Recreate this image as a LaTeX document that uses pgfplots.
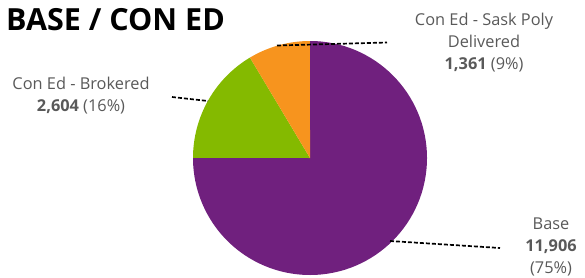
\documentclass[border=0pt]{standalone}
\usepackage{pgfplots}
\pgfplotsset{compat=1.18}
\usepackage{fontspec}
\setmainfont{Open Sans}
\definecolor{cBase}{HTML}{70207E}
\definecolor{cBrok}{HTML}{84BA00}
\definecolor{cSask}{HTML}{F7941E}
\definecolor{txt}{HTML}{595959}
% data
\def\vBase{11906}
\def\vBrok{2604}
\def\vSask{1361}
\pgfmathsetmacro\tot{\vBase+\vBrok+\vSask}
\pgfmathsetmacro\aA{90-360*(\vBase/\tot)}
\pgfmathsetmacro\aB{\aA-360*(\vBrok/\tot)}
\pgfmathsetmacro\aC{\aB-360*(\vSask/\tot)}
\begin{document}
\begin{tikzpicture}
\begin{axis}[
  at={(0,0)}, anchor=south west,
  width=585bp, height=278bp, scale only axis, hide axis,
  xmin=0, xmax=585, ymin=0, ymax=278, y dir=reverse, clip=false]
\addplot[draw=none] coordinates {(0,0) (585,278)};
\fill[cBase] (axis cs:310,158) -- ++(90:117bp) arc[start angle=90, end angle=\aA, radius=117bp] -- cycle;
\fill[cBrok] (axis cs:310,158) -- ++(\aA:117bp) arc[start angle=\aA, end angle=\aB, radius=117bp] -- cycle;
\fill[cSask] (axis cs:310,158) -- ++(\aB:117bp) arc[start angle=\aB, end angle=\aC, radius=117bp] -- cycle;
% leader lines
\draw[black, line width=1.7bp, dash pattern=on 4bp off 2bp] (axis cs:277,45.5) -- (axis cs:387,42.5);
\draw[black, line width=1.7bp, dash pattern=on 4bp off 2bp] (axis cs:172,97) -- (axis cs:208,101);
\draw[black, line width=1.7bp, dash pattern=on 4bp off 2bp] (axis cs:390,241) -- (axis cs:500,248);
% title
\node[anchor=west, inner sep=0, font=\fontsize{30.6}{35}\selectfont\bfseries] at (axis cs:6,20) {BASE / CON ED};
% labels
\node[inner sep=0, align=center, text=txt, font=\fontsize{16.4}{22}\selectfont] at (axis cs:484,43) {Con Ed - Sask Poly\\Delivered\\\textbf{1,361} (9\%)};
\node[inner sep=0, align=center, text=txt, font=\fontsize{16.4}{22}\selectfont] at (axis cs:81,96) {Con Ed - Brokered\\\textbf{2,604} (16\%)};
\node[inner sep=0, align=center, text=txt, font=\fontsize{16.4}{22}\selectfont] at (axis cs:551,247) {Base\\\textbf{11,906}\\(75\%)};
\end{axis}
\pgfresetboundingbox
\useasboundingbox (0,0) rectangle (585bp,278bp);
\end{tikzpicture}
\end{document}
